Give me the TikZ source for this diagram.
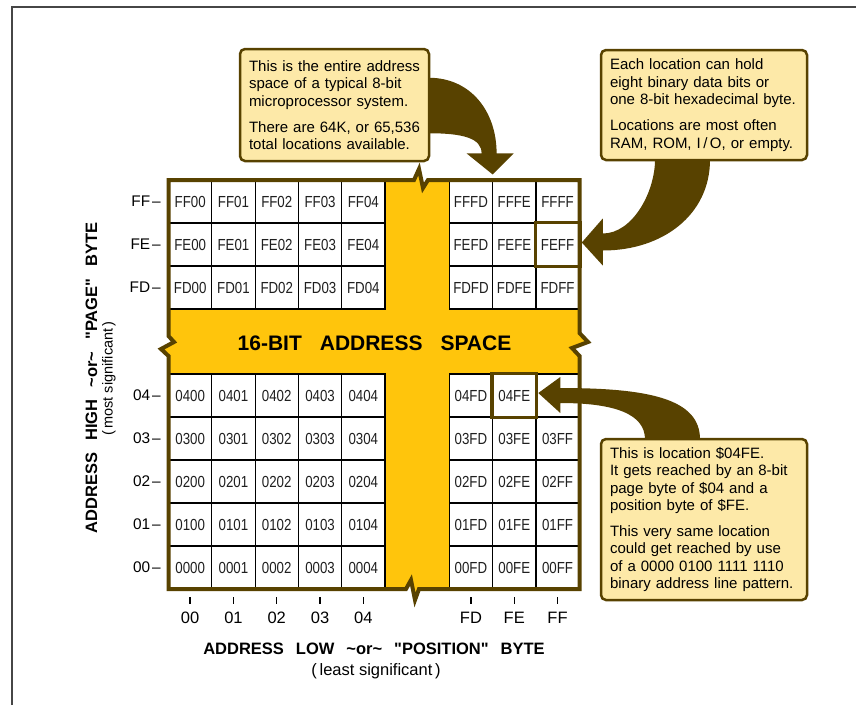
\documentclass[tikz,border=0pt]{standalone}
\usepackage{fontspec}
\setmainfont{Liberation Sans}[Ligatures=TeXOff]
\newfontfamily\cellfont[FakeStretch=0.83]{Liberation Sans}
\usetikzlibrary{calc}
\definecolor{brn}{RGB}{88,66,0}
\definecolor{gold}{RGB}{255,197,12}
\definecolor{notefill}{RGB}{253,233,168}
\definecolor{framegray}{RGB}{70,70,70}
\def\hidelbl{04FF}
\newcommand{\sq}{{\char34}}
\begin{document}
\begin{tikzpicture}[x=1pt,y=-1pt,
  cell/.style={draw=black, line width=1.2pt, fill=white, minimum width=43.3pt,
    minimum height=43pt, inner sep=0pt, text=black!88,
    font=\cellfont\fontsize{16}{16}\selectfont},
  framebox/.style={draw=brn, line width=4pt, line join=miter},
  hl/.style={draw=brn, line width=3.5pt},
  ylab/.style={inner sep=0pt, anchor=east, font=\fontsize{15.4}{15.4}\selectfont},
  xlab/.style={inner sep=0pt, font=\fontsize{16.5}{16.5}\selectfont},
  tick/.style={draw=black, line width=1.4pt},
  axtitle/.style={inner sep=0pt, font=\bfseries\fontsize{16.5}{16.5}\selectfont},
  note/.style={draw=brn, line width=2.5pt, fill=notefill, rounded corners=5pt,
    align=left, inner xsep=9pt, inner ysep=0pt,
    font=\fontsize{15}{17.5}\selectfont},
  arrowc/.style={fill=brn},
]
\useasboundingbox (0,0) rectangle (868,705);
\fill[white] (0,0) rectangle (868,705);
% page frame
\draw[framegray, line width=2pt] (12,705) -- (12,7) -- (856,7);

% yellow address space
\fill[gold] (168.5,180) -- (414,180) -- (419,169) -- (423,188) -- (428,180) -- (579.5,180)
  -- (579.5,333) -- (588,342) -- (572,348) -- (579.5,356) -- (579.5,589)
  -- (419,589) -- (415,600) -- (411,580) -- (406,589) -- (168.5,589)
  -- (168.5,356) -- (161,349) -- (174,342) -- (168.5,336) -- cycle;

% cells
\foreach \r/\ry in {FF/180,FE/223,FD/266,04/374,03/417,02/460,01/503,00/546}{
  \foreach \c/\cx in {00/168.5,01/211.8,02/255.1,03/298.4,04/341.7,FD/449.3,FE/492.6,FF/535.9}{
    \edef\lbl{\r\c}
    \node[cell] (c\r\c) at (\cx+21.65,\ry+21.5) {\ifx\lbl\hidelbl\else\lbl\fi};
  }
}

% thick frame
\draw[framebox] (168.5,180) -- (414,180) -- (419,169) -- (423,188) -- (428,180) -- (579.5,180)
  -- (579.5,333) -- (588,342) -- (572,348) -- (579.5,356) -- (579.5,589)
  -- (419,589) -- (415,600) -- (411,580) -- (406,589) -- (168.5,589)
  -- (168.5,356) -- (161,349) -- (174,342) -- (168.5,336) -- cycle;

% highlighted cells
\draw[hl] (cFEFF.north west) rectangle (cFEFF.south east);
\draw[hl] (c04FE.north west) rectangle (c04FE.south east);

% title inside
\node[inner sep=0pt, font=\bfseries\fontsize{21}{21}\selectfont] (space) at (374.5,343)
  {16-BIT\hspace{18pt}ADDRESS\hspace{18pt}SPACE};

% left axis labels
\foreach \r/\ry in {FF/201.5,FE/244.5,FD/287.5,04/395.5,03/438.5,02/481.5,01/524.5,00/567.5}{
  \node[ylab] (yl\r) at (161,\ry) {\r\kern2pt–};
}
% bottom axis labels
\foreach \c/\cx in {00/190.15,01/233.45,02/276.75,03/320.05,04/363.35,FD/470.95,FE/514.25,FF/557.55}{
  \node[xlab] (xl\c) at (\cx,617.5) {\c};
  \draw[tick] (\cx,597) -- (\cx,603.5);
}

% axis titles
\node[axtitle] (xtitle) at (374,649)
  {ADDRESS\hspace{12pt}LOW\hspace{12pt}\textasciitilde or\textasciitilde\hspace{12pt}\sq POSITION\sq\hspace{12pt}BYTE};
\node[inner sep=0pt, font=\fontsize{16.5}{16.5}\selectfont] (xsub) at (376,671.5)
  {(\,least significant\,)};
\node[axtitle, rotate=90] (ytitle) at (91.5,378)
  {ADDRESS\hspace{12pt}HIGH\hspace{12pt}\textasciitilde or\textasciitilde\hspace{12pt}\sq PAGE\sq\hspace{12pt}BYTE};
\node[inner sep=0pt, rotate=90, font=\fontsize{14.5}{14.5}\selectfont] (ysub) at (109,378.5)
  {(\,most significant\,)};

% callouts
\node[note, text width=171pt, minimum width=189pt, minimum height=112pt] (note1) at (334.5,105)
  {This is the entire address\\
   space of a typical 8-bit\\
   microprocessor system.\\[8.5pt]
   There are 64K, or 65,536\\
   total locations available.};
\node[note, text width=188pt, minimum width=206pt, minimum height=110pt] (note2) at (704,105)
  {Each location can hold\\
   eight binary data bits or\\
   one 8-bit hexadecimal byte.\\[8.5pt]
   Locations are most often\\
   RAM, ROM, I\,/\,O, or empty.};
\node[note, text width=188pt, minimum width=206pt, minimum height=161pt] (note3) at (704,519.5)
  {This is location \$04FE.\\
   It gets reached by an 8-bit\\
   page byte of \$04 and a\\
   position byte of \$FE.\\[8pt]
   This very same location\\
   could get reached by use\\
   of a 0000 0100 1111 1110\\
   binary address line pattern.};

% arrow 1
\coordinate (t1) at ($(cFFFE.north west)+(0.6,-5)$);
\coordinate (s1a) at ($(note1.north east)+(-1.5,30)$);
\coordinate (s1b) at ($(note1.south east)+(-1.5,-29)$);
\fill[arrowc] (s1a) .. controls +(42,0) and +(0,-42) .. ($(t1)+(4,-21)$)
  -- ($(t1)+(21,-21)$) -- (t1) -- ($(t1)+(-26,-21)$) -- ($(t1)+(-11,-21)$)
  .. controls +(0,-15) and +(35,0) .. (s1b) -- cycle;

% arrow 2
\coordinate (t2) at ($(cFEFF.east)+(2,-2)$);
\coordinate (s2o) at ($(note2.south)+(6,-1.5)$);
\coordinate (s2i) at ($(note2.south)+(-49,-1.5)$);
\fill[arrowc] (s2o) .. controls +(0,55) and +(60,0) .. ($(t2)+(21,8)$)
  -- ($(t2)+(21,23)$) -- (t2) -- ($(t2)+(21,-24)$) -- ($(t2)+(21,-9)$)
  .. controls +(30,0) and +(0,32) .. (s2i) -- cycle;

% arrow 3
\coordinate (t3) at ($(c04FF.west)+(3,-2.5)$);
\coordinate (s3o) at ($(note3.north)+(-4,1.5)$);
\coordinate (s3i) at ($(note3.north)+(-59,1.5)$);
\fill[arrowc] (s3o) .. controls +(0,-40) and +(90,0) .. ($(t3)+(22,-5)$)
  -- ($(t3)+(22,-16)$) -- (t3) -- ($(t3)+(22,20)$) -- ($(t3)+(22,10)$)
  .. controls +(55,0) and +(0,-25) .. (s3i) -- cycle;
\end{tikzpicture}
\end{document}
